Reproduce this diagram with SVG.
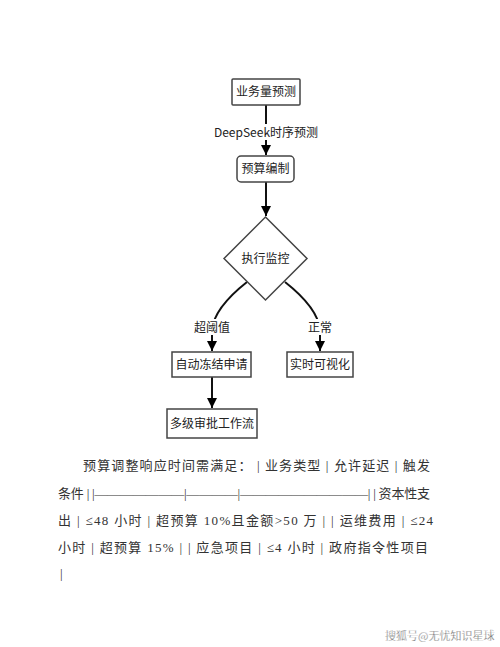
<svg xmlns="http://www.w3.org/2000/svg" width="500" height="647" viewBox="0 0 500 647">
<defs>
<marker id="ah" markerUnits="userSpaceOnUse" markerWidth="12" markerHeight="12" refX="10" refY="5" orient="auto">
<path d="M0,0 L10,5 L0,10 Z" fill="#000"/>
</marker>
<style>
.box{fill:#fff;stroke:#444;stroke-width:1.5}
.lbl{font-family:"Noto Sans CJK SC","Liberation Sans",sans-serif;font-size:12px;fill:#222;text-anchor:middle}
.edge{fill:none;stroke:#111;stroke-width:2}
.body{font-family:"Liberation Serif","Noto Sans CJK SC",serif;font-size:13px;fill:#333}
</style>
</defs>
<rect width="500" height="647" fill="#fff"/>
<g id="connectors">
<path class="edge" d="M266,105 L266,155" marker-end="url(#ah)"/>
<rect x="216" y="124" width="101" height="16" fill="#fff"/>
<text class="lbl" x="266" y="136.500">DeepSeek时序预测</text>
<path class="edge" d="M266,182 L266,216" marker-end="url(#ah)"/>
<path class="edge" d="M247,282 Q214,308 212,330 L212,351" marker-end="url(#ah)"/>
<rect x="192" y="319" width="40" height="16" fill="#fff"/>
<text class="lbl" x="212" y="331.500">超阈值</text>
<path class="edge" d="M285,282 Q318,308 320,330 L320,351" marker-end="url(#ah)"/>
<rect x="306" y="319" width="28" height="16" fill="#fff"/>
<text class="lbl" x="320" y="331.500">正常</text>
<path class="edge" d="M212,377 L212,408" stroke-width="2.5" marker-end="url(#ah)"/>
</g>
<g id="n1">
<rect class="box" x="232" y="79" width="68" height="26" rx="1"/>
<text class="lbl" x="266" y="96">业务量预测</text>
</g>
<g id="n2">
<rect class="box" x="237" y="156" width="57" height="26" rx="4"/>
<text class="lbl" x="265.500" y="173">预算编制</text>
</g>
<g id="n3">
<polygon class="box" points="265.500,217 307,258.500 265.500,300 224,258.500" stroke-width="1"/>
<text class="lbl" x="265.500" y="263">执行监控</text>
</g>
<g id="n4">
<rect class="box" x="172" y="352" width="79" height="25"/>
<text class="lbl" x="211.500" y="368.500">自动冻结申请</text>
</g>
<g id="n5">
<rect class="box" x="287" y="352" width="66" height="25"/>
<text class="lbl" x="320" y="368.500">实时可视化</text>
</g>
<g id="n6">
<rect class="box" x="167" y="409" width="90" height="29"/>
<text class="lbl" x="212" y="428">多级审批工作流</text>
</g>
<g id="body">
<text class="body" x="83" y="470" textLength="347" lengthAdjust="spacing">预算调整响应时间需满足： | 业务类型 | 允许延迟 | 触发</text>
<text class="body" x="58" y="498" textLength="372" lengthAdjust="spacing">条件 | |———————|————|——————————| | 资本性支</text>
<text class="body" x="58" y="525" textLength="375" lengthAdjust="spacing">出 | ≤48 小时 | 超预算 10%且金额&gt;50 万 | | 运维费用 | ≤24</text>
<text class="body" x="58" y="552" textLength="370" lengthAdjust="spacing">小时 | 超预算 15% | | 应急项目 | ≤4 小时 | 政府指令性项目</text>
<text class="body" x="60" y="578">|</text>
</g>
<text x="385" y="640" font-family="Noto Sans CJK SC,sans-serif" font-size="11" fill="#555" stroke="#fff" stroke-width="0.3">搜狐号@无忧知识星球</text>
</svg>
